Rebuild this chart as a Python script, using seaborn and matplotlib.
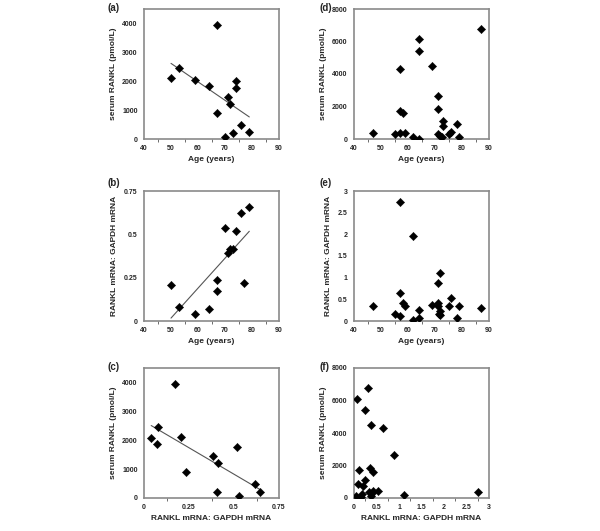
import matplotlib
matplotlib.use("Agg")
import matplotlib.pyplot as plt
import seaborn as sns
import pandas as pd
from matplotlib.ticker import FuncFormatter, MultipleLocator

sns.set_style("white")
plt.rcParams['font.family'] = ['Liberation Sans', 'DejaVu Sans']
plt.rcParams['font.weight'] = 'bold'

# (a) age vs serum RANKL (group 1)
a_age = [50, 53, 59, 64, 67, 67, 70, 71, 72, 73, 74, 74, 76, 79]
a_serum = [2100, 2450, 2050, 1850, 3930, 900, 80, 1450, 1220, 220, 2000, 1750, 500, 230]

# (b) age vs RANKL mRNA (group 1)
b_age = [50, 53, 59, 64, 67, 67, 70, 71, 72, 73, 74, 76, 77, 79]
b_mrna = [0.207, 0.079, 0.041, 0.072, 0.236, 0.171, 0.535, 0.391, 0.417, 0.415, 0.521, 0.624, 0.221, 0.657]

# (c) RANKL mRNA vs serum RANKL (group 1)
c_mrna = [0.040, 0.072, 0.079, 0.171, 0.204, 0.235, 0.386, 0.412, 0.408, 0.515, 0.526, 0.614, 0.645]
c_serum = [2064, 1855, 2458, 3930, 2098, 904, 1461, 1217, 220, 1751, 70, 487, 220]

# (d) age vs serum RANKL (group 2)
d_age = [47, 55, 57, 57, 57, 58, 59, 62, 64, 64, 64, 69, 71, 71, 71, 72, 72.5, 73, 73, 75, 76, 78, 79, 87]
d_serum = [400, 310, 400, 4290, 1740, 1620, 400, 120, 20, 6130, 5430, 4490, 2660, 1850, 330, 210, 120, 1130, 780, 330, 430, 900, 120, 6770]

# (e) age vs RANKL mRNA (group 2)
e_age = [47, 55, 57, 57, 57, 58, 59, 62, 62, 64, 64, 69, 71, 71, 71, 72, 71.5, 72, 72, 75, 76, 78, 79, 87]
e_mrna = [0.35, 0.16, 2.74, 0.64, 0.11, 0.42, 0.34, 0.03, 1.96, 0.25, 0.07, 0.36, 0.88, 0.42, 0.34, 1.11, 0.17, 0.22, 0.15, 0.34, 0.52, 0.07, 0.35, 0.30]

# (f) RANKL mRNA vs serum RANKL (group 2)
f_mrna = [0.075, 0.30, 0.255, 0.375, 0.645, 0.885, 0.36, 0.43, 0.12, 0.255, 0.09, 0.195,
          0.04, 0.17, 0.15, 0.34, 0.39, 0.43, 0.53, 0.375, 1.11, 2.745]
f_serum = [6120, 6760, 5420, 4500, 4290, 2660, 1840, 1610, 1730, 1110, 890, 740,
           105, 272, 62, 396, 309, 433, 433, 105, 165, 392]

AGE = "Age (years)"
SER = "serum RANKL (pmol/L)"
MRN = "RANKL mRNA: GAPDH mRNA"

fig = plt.figure(figsize=(6, 5.31), dpi=100)
W, H = 600.0, 531.0

def make_ax(x0, x1, y0, y1):
    return fig.add_axes([x0 / W, 1 - y1 / H, (x1 - x0) / W, (y1 - y0) / H])

cols = [(144, 279), (354, 489)]
rows = [(9, 139), (191, 321), (368, 498)]

panels = [
    ("(a)", 0, 0, a_age, a_serum, AGE, SER, (40, 90), 10, (0, 4500), [0, 1000, 2000, 3000, 4000], True),
    ("(b)", 0, 1, b_age, b_mrna, AGE, MRN, (40, 90), 10, (0, 0.75), [0, 0.25, 0.5, 0.75], True),
    ("(c)", 0, 2, c_mrna, c_serum, MRN, SER, (0, 0.75), 0.25, (0, 4500), [0, 1000, 2000, 3000, 4000], True),
    ("(d)", 1, 0, d_age, d_serum, AGE, SER, (40, 90), 10, (0, 8000), [0, 2000, 4000, 6000, 8000], False),
    ("(e)", 1, 1, e_age, e_mrna, AGE, MRN, (40, 90), 10, (0, 3), [0, 0.5, 1, 1.5, 2, 2.5, 3], False),
    ("(f)", 1, 2, f_mrna, f_serum, MRN, SER, (0, 3), 0.5, (0, 8000), [0, 2000, 4000, 6000, 8000], False),
]

fmt = FuncFormatter(lambda v, p: f"{v:g}")
label_x = {0: 107, 1: 319}
label_y = {0: 8, 1: 183, 2: 367}

for lab, c, r, xs, ys, xl, yl, xlim, xstep, ylim, yticks, fit in panels:
    ax = make_ax(cols[c][0], cols[c][1], rows[r][0], rows[r][1])
    df = pd.DataFrame({"x": xs, "y": ys})
    sns.scatterplot(data=df, x="x", y="y", ax=ax, marker="D", color="black",
                    s=18, edgecolor="black", linewidth=0.3, zorder=3)
    if fit:
        sns.regplot(data=df, x="x", y="y", ax=ax, scatter=False, ci=None,
                    line_kws=dict(color="#555555", lw=0.8))
    ax.set_xlim(*xlim)
    ax.set_ylim(*ylim)
    ax.xaxis.set_major_locator(MultipleLocator(xstep))
    ax.xaxis.set_minor_locator(MultipleLocator(xstep / 2))
    ax.set_yticks(yticks)
    ax.xaxis.set_major_formatter(fmt)
    ax.yaxis.set_major_formatter(fmt)
    ax.tick_params(axis="both", which="major", direction="out", length=2.5, width=0.8,
                   color="#555555", labelsize=5, pad=2)
    ax.tick_params(axis="x", which="minor", direction="out", length=2, width=0.6,
                   color="#555555", bottom=True)
    for t in ax.get_xticklabels() + ax.get_yticklabels():
        t.set_fontweight("bold")
    for sp in ax.spines.values():
        sp.set_visible(True)
        sp.set_color("#8a8a8a")
        sp.set_linewidth(1.2)
    ax.set_xlabel(xl, fontsize=6, fontweight="bold", labelpad=3)
    ax.set_ylabel(yl, fontsize=6, fontweight="bold", labelpad=4)
    fig.text(label_x[c] / W, 1 - label_y[r] / H, lab, fontsize=7, fontweight="bold",
             ha="left", va="center")

fig.savefig("out.png", dpi=100, facecolor="white")
